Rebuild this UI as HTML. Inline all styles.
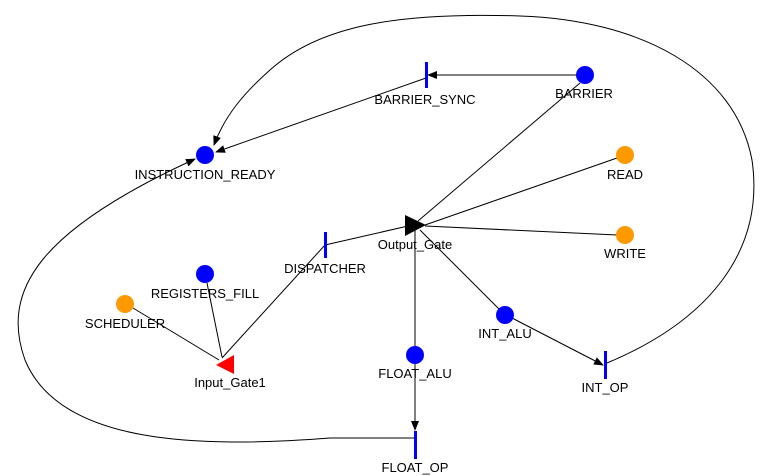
<!DOCTYPE html>
<html><head><style>body{margin:0;background:#fff}svg{display:block}text{font-family:"Liberation Sans",sans-serif;font-size:13px;fill:#000;text-anchor:middle}</style></head><body>
<svg width="769" height="476" viewBox="0 0 769 476">
<defs><marker id="a" markerWidth="10" markerHeight="8" refX="9" refY="4" orient="auto" markerUnits="userSpaceOnUse"><path d="M0,0 L10,4 L0,8 z" fill="#000"/></marker></defs>
<g stroke="#000" stroke-width="1" fill="none">
<line x1="578" y1="75" x2="428" y2="75" marker-end="url(#a)"/>
<line x1="426" y1="78" x2="216" y2="152" marker-end="url(#a)"/>
<line x1="580" y1="83" x2="418" y2="221"/>
<line x1="617" y1="158" x2="425" y2="225"/>
<line x1="617" y1="235" x2="425" y2="226"/>
<line x1="325" y1="245" x2="408" y2="226"/>
<line x1="222" y1="358" x2="325" y2="245"/>
<line x1="207" y1="283" x2="222" y2="357"/>
<line x1="133" y1="308" x2="219" y2="360"/>
<line x1="415" y1="228" x2="415" y2="430" marker-end="url(#a)"/>
<line x1="420" y1="230" x2="499" y2="309"/>
<line x1="512" y1="318" x2="603" y2="365" marker-end="url(#a)"/>
<path d="M607,363 C710,320 765,250 752,160 C735,70 640,20 520,16 C400,12 320,25 270,70 C245,92 225,115 214,145" marker-end="url(#a)"/>
<path d="M415,438 L330,438 C200,448 60,445 25,360 C0,290 40,230 195,159" marker-end="url(#a)"/>
</g>
<g fill="#00f">
<circle cx="205" cy="155" r="9"/><circle cx="585" cy="75" r="9"/><circle cx="205" cy="274" r="9"/>
<circle cx="415" cy="355" r="9"/><circle cx="505" cy="315" r="9"/>
<rect x="425" y="62" width="3" height="26"/><rect x="324" y="232" width="3" height="26"/>
<rect x="604" y="351" width="3" height="28"/><rect x="414" y="431" width="3" height="28"/>
</g>
<g fill="#f90"><circle cx="625" cy="155" r="9"/><circle cx="625" cy="235" r="9"/><circle cx="125" cy="304" r="9"/></g>
<path d="M405,215 L426,225 L405,236 z" fill="#000"/>
<path d="M216,365 L234,355 L234,374 z" fill="#f00"/>
<text x="205" y="179">INSTRUCTION_READY</text>
<text x="425" y="104">BARRIER_SYNC</text>
<text x="584" y="98">BARRIER</text>
<text x="625" y="179">READ</text>
<text x="625" y="258">WRITE</text>
<text x="415" y="249">Output_Gate</text>
<text x="325" y="273">DISPATCHER</text>
<text x="205" y="298">REGISTERS_FILL</text>
<text x="125" y="328">SCHEDULER</text>
<text x="230" y="387">Input_Gate1</text>
<text x="415" y="378">FLOAT_ALU</text>
<text x="505" y="338">INT_ALU</text>
<text x="605" y="392">INT_OP</text>
<text x="415" y="472">FLOAT_OP</text>
</svg></body></html>
